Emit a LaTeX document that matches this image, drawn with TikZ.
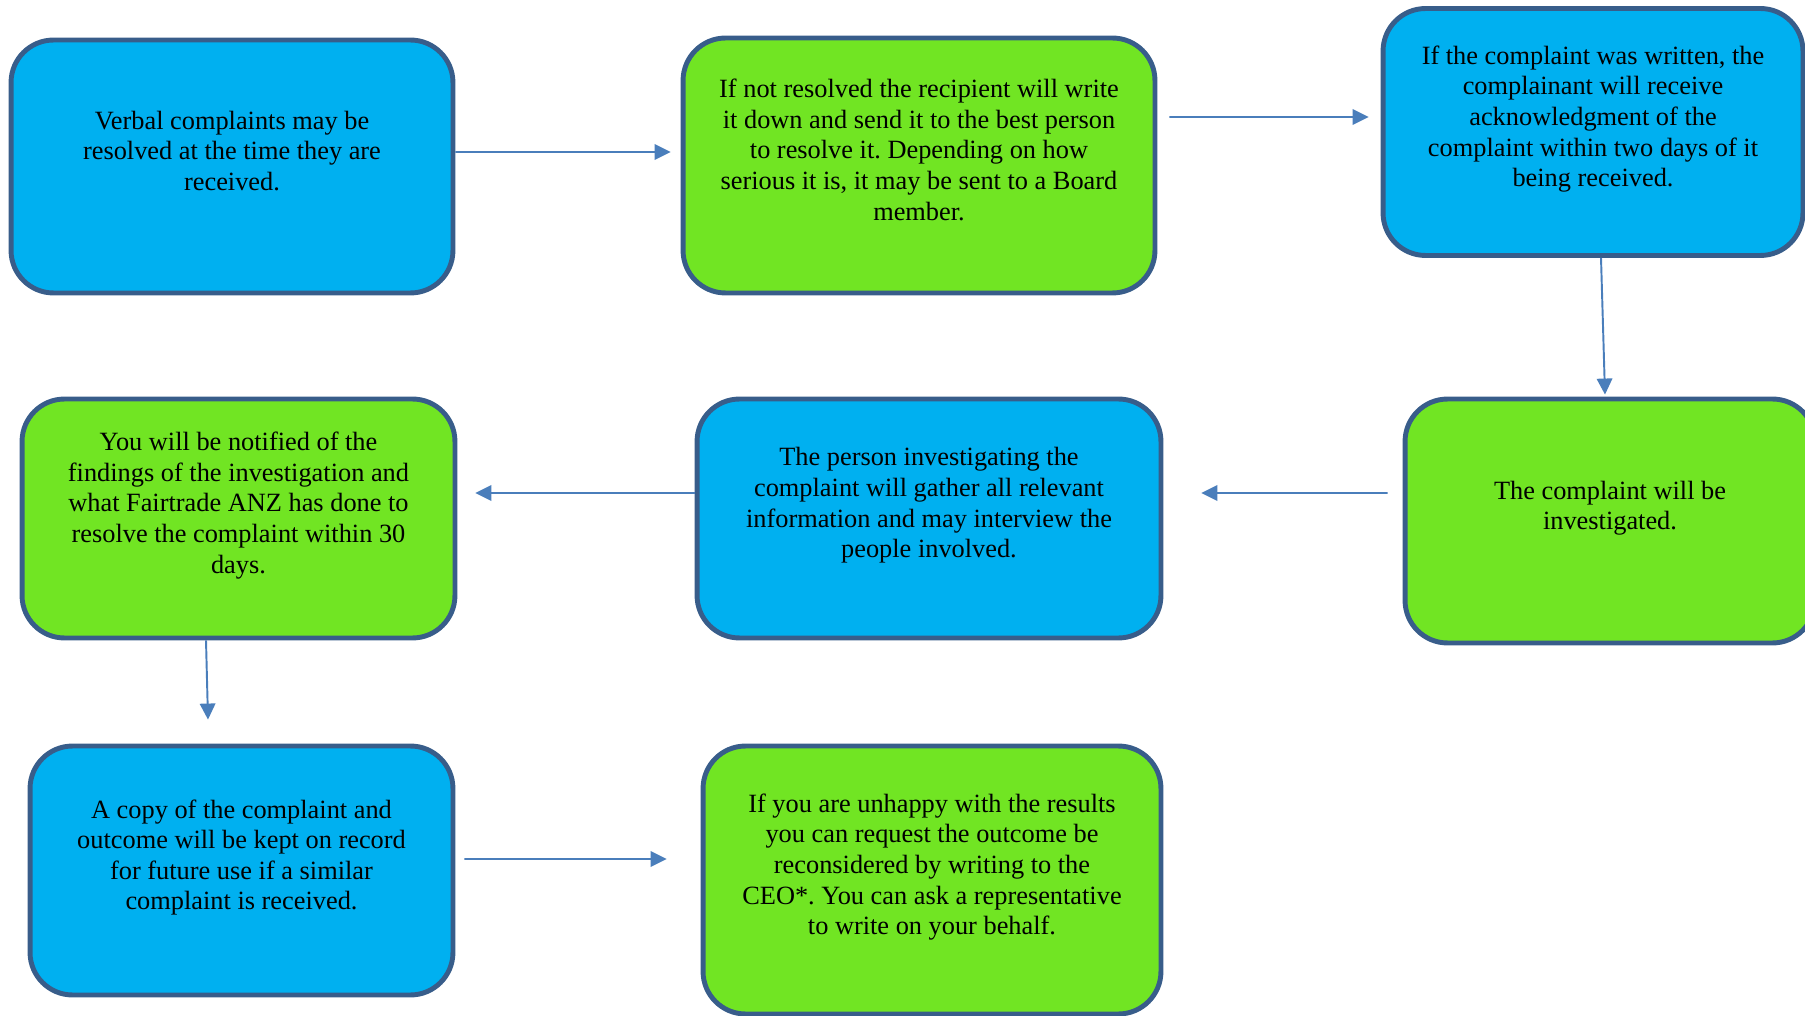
\documentclass[tikz,border=0pt]{standalone}
\usepackage{fontspec}
\setmainfont{Liberation Serif}
\usetikzlibrary{arrows.meta}
\usetikzlibrary{positioning}
\frenchspacing

\definecolor{skyfill}{HTML}{00B0F0}
\definecolor{limefill}{HTML}{71E523}
\definecolor{rimblue}{HTML}{385D8A}
\definecolor{arrowblue}{HTML}{4A7EBB}

\tikzset{
	stepbase/.style={draw=rimblue, line width=2.8pt, rounded corners=0.85cm,
		align=center, inner sep=0pt, font=\fontsize{15}{17.4}\selectfont},
	bluebox/.style={stepbase, fill=skyfill},
	greenbox/.style={stepbase, fill=limefill},
	flow/.style={draw=arrowblue, line width=1.1pt,
		-{Triangle[length=0.32cm,width=0.31cm]}}
}

\begin{document}
\begin{tikzpicture}[x=0.02cm, y=-0.02cm]
	\useasboundingbox (0,0) rectangle (1805,1016);

	% top row
	\node[bluebox, minimum width=8.84cm, minimum height=5.06cm] (verbal) at (232,166.5)
		{Verbal complaints may be\\resolved at the time they are\\received.\\[-4.6pt]\strut};
	\node[greenbox, minimum width=9.44cm, minimum height=5.1cm] (recip) at (919,165.5)
		{If not resolved the recipient will write\\it down and send it to the best person\\to resolve it. Depending on how\\serious it is, it may be sent to a Board\\member.\\[-4.6pt]\strut};
	\node[bluebox, minimum width=8.4cm, minimum height=4.94cm] (acknow) at (1593,132)
		{If the complaint was written, the\\complainant will receive\\acknowledgment of the\\complaint within two days of it\\being received.\\[-4.6pt]\strut};

	% middle row
	\node[greenbox, minimum width=8.2cm, minimum height=4.88cm] (investig) at (1610,521)
		{The complaint will be\\investigated.\\[-4.6pt]\strut};
	\node[bluebox, minimum width=9.28cm, minimum height=4.78cm] (gather) at (929,518.5)
		{The person investigating the\\complaint will gather all relevant\\information and may interview the\\people involved.\\[-4.6pt]\strut};
	\node[greenbox, minimum width=8.66cm, minimum height=4.78cm] (notified) at (238.5,518.5)
		{You will be notified of the\\findings of the investigation and\\what Fairtrade ANZ has done to\\resolve the complaint within 30\\days.\\[-4.6pt]\strut};

	% bottom row
	\node[bluebox, minimum width=8.46cm, minimum height=4.98cm] (record) at (241.5,870.5)
		{A copy of the complaint and\\outcome will be kept on record\\for future use if a similar\\complaint is received.\\[-4.6pt]\strut};
	\node[greenbox, minimum width=9.16cm, minimum height=5.36cm] (reconsid) at (932,880)
		{If you are unhappy with the results\\you can request the outcome be\\reconsidered by writing to the\\CEO*. You can ask a representative\\to write on your behalf.\\[-4.6pt]\strut};

	% connectors
	\draw[flow] ([yshift=0.29cm]verbal.east) -- ([xshift=-0.2cm,yshift=0.27cm]recip.west);
	\draw[flow] ([xshift=0.24cm,yshift=0.97cm]recip.east) -- ([xshift=-0.24cm,yshift=0.3cm]acknow.west);
	\draw[flow] ([xshift=0.16cm]acknow.south) -- ([xshift=-0.1cm,yshift=0.04cm]investig.north);
	\draw[flow] ([xshift=-0.3cm,yshift=0.56cm]investig.west) -- ([xshift=0.76cm,yshift=0.51cm]gather.east);
	\draw[flow] ([yshift=0.51cm]gather.west) -- ([xshift=0.36cm,yshift=0.51cm]notified.east);
	\draw[flow] ([xshift=-0.65cm]notified.south) -- ([xshift=-0.67cm,yshift=0.48cm]record.north);
	\draw[flow] ([xshift=0.18cm,yshift=0.23cm]record.east) -- ([xshift=-0.68cm,yshift=0.42cm]reconsid.west);
\end{tikzpicture}
\end{document}
